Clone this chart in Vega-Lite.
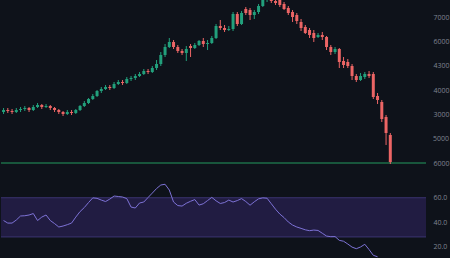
{
  "$schema": "https://vega.github.io/schema/vega-lite/v6.json",
  "background": "#0e121a",
  "padding": 0,
  "spacing": 4,
  "config": {
    "view": {"stroke": null},
    "axis": {"domain": false, "ticks": false, "grid": false, "labelColor": "#7f8491", "labelFont": "Open Sans", "labelFontSize": 7, "labelPadding": 7, "title": null, "labelFlush": false, "labelOverlap": false, "labelSeparation": 0, "labelBound": false}
  },
  "datasets": {
    "candles": [
      {"i":0,"open":3096,"close":3178,"high":3260,"low":3014},
      {"i":1,"open":3178,"close":3137,"high":3260,"low":3055},
      {"i":2,"open":3137,"close":3096,"high":3219,"low":3014},
      {"i":3,"open":3096,"close":3178,"high":3260,"low":3055},
      {"i":4,"open":3178,"close":3219,"high":3301,"low":3096},
      {"i":5,"open":3219,"close":3260,"high":3342,"low":3137},
      {"i":6,"open":3260,"close":3178,"high":3301,"low":3096},
      {"i":7,"open":3178,"close":3301,"high":3384,"low":3137},
      {"i":8,"open":3301,"close":3384,"high":3466,"low":3260},
      {"i":9,"open":3384,"close":3301,"high":3425,"low":3219},
      {"i":10,"open":3301,"close":3342,"high":3425,"low":3260},
      {"i":11,"open":3342,"close":3260,"high":3384,"low":3178},
      {"i":12,"open":3260,"close":3178,"high":3301,"low":3096},
      {"i":13,"open":3178,"close":3096,"high":3219,"low":3014},
      {"i":14,"open":3096,"close":3014,"high":3137,"low":2931},
      {"i":15,"open":3014,"close":3096,"high":3178,"low":2973},
      {"i":16,"open":3096,"close":3055,"high":3178,"low":2973},
      {"i":17,"open":3055,"close":3178,"high":3219,"low":3014},
      {"i":18,"open":3178,"close":3342,"high":3384,"low":3137},
      {"i":19,"open":3342,"close":3466,"high":3548,"low":3301},
      {"i":20,"open":3466,"close":3630,"high":3671,"low":3425},
      {"i":21,"open":3630,"close":3753,"high":3836,"low":3589},
      {"i":22,"open":3753,"close":3959,"high":4000,"low":3712},
      {"i":23,"open":3959,"close":4041,"high":4123,"low":3877},
      {"i":24,"open":4041,"close":4123,"high":4206,"low":4000},
      {"i":25,"open":4123,"close":4082,"high":4206,"low":4000},
      {"i":26,"open":4082,"close":4247,"high":4329,"low":4041},
      {"i":27,"open":4247,"close":4329,"high":4411,"low":4206},
      {"i":28,"open":4329,"close":4288,"high":4411,"low":4206},
      {"i":29,"open":4288,"close":4452,"high":4534,"low":4247},
      {"i":30,"open":4452,"close":4493,"high":4575,"low":4370},
      {"i":31,"open":4493,"close":4575,"high":4658,"low":4411},
      {"i":32,"open":4575,"close":4658,"high":4740,"low":4534},
      {"i":33,"open":4658,"close":4781,"high":4863,"low":4617},
      {"i":34,"open":4781,"close":4740,"high":4863,"low":4658},
      {"i":35,"open":4740,"close":4904,"high":4986,"low":4699},
      {"i":36,"open":4904,"close":5069,"high":5233,"low":4822},
      {"i":37,"open":5069,"close":5439,"high":5562,"low":4986},
      {"i":38,"open":5439,"close":5767,"high":5891,"low":5356},
      {"i":39,"open":5767,"close":5973,"high":6137,"low":5726},
      {"i":40,"open":5973,"close":5767,"high":6055,"low":5685},
      {"i":41,"open":5767,"close":5603,"high":5850,"low":5521},
      {"i":42,"open":5603,"close":5521,"high":5685,"low":5439},
      {"i":43,"open":5521,"close":5685,"high":5808,"low":5192},
      {"i":44,"open":5808,"close":5726,"high":5891,"low":5356},
      {"i":45,"open":5726,"close":5850,"high":5932,"low":5685},
      {"i":46,"open":5850,"close":6014,"high":6055,"low":5808},
      {"i":47,"open":6014,"close":5891,"high":6137,"low":5767},
      {"i":48,"open":5891,"close":5932,"high":6055,"low":5644},
      {"i":49,"open":5932,"close":6137,"high":6219,"low":5891},
      {"i":50,"open":6137,"close":6630,"high":6713,"low":6096},
      {"i":51,"open":6630,"close":6548,"high":6877,"low":6466},
      {"i":52,"open":6548,"close":6466,"high":6672,"low":6384},
      {"i":53,"open":6466,"close":6507,"high":6630,"low":6425},
      {"i":54,"open":6507,"close":7124,"high":7206,"low":6425},
      {"i":55,"open":7124,"close":6713,"high":7206,"low":6630},
      {"i":56,"open":6713,"close":7165,"high":7247,"low":6672},
      {"i":57,"open":7329,"close":7165,"high":7411,"low":7083},
      {"i":58,"open":7288,"close":7083,"high":7370,"low":6877},
      {"i":59,"open":7083,"close":7206,"high":7288,"low":6918},
      {"i":60,"open":7206,"close":7452,"high":7535,"low":7124},
      {"i":61,"open":7452,"close":7699,"high":7781,"low":7411},
      {"i":62,"open":7699,"close":7822,"high":7905,"low":7617},
      {"i":63,"open":7781,"close":7658,"high":7863,"low":7576},
      {"i":64,"open":7658,"close":7576,"high":7740,"low":7494},
      {"i":65,"open":7699,"close":7494,"high":7740,"low":7411},
      {"i":66,"open":7535,"close":7329,"high":7617,"low":7288},
      {"i":67,"open":7370,"close":7165,"high":7452,"low":7083},
      {"i":68,"open":7206,"close":7000,"high":7288,"low":6795},
      {"i":69,"open":7083,"close":6836,"high":7165,"low":6713},
      {"i":70,"open":6795,"close":6548,"high":6918,"low":6425},
      {"i":71,"open":6589,"close":6343,"high":6672,"low":6302},
      {"i":72,"open":6466,"close":6261,"high":6548,"low":6137},
      {"i":73,"open":6343,"close":6137,"high":6466,"low":5973},
      {"i":74,"open":6178,"close":6261,"high":6343,"low":6137},
      {"i":75,"open":6261,"close":6178,"high":6384,"low":6055},
      {"i":76,"open":6178,"close":5767,"high":6219,"low":5644},
      {"i":77,"open":5767,"close":5562,"high":5850,"low":5439},
      {"i":78,"open":5562,"close":5685,"high":5767,"low":5480},
      {"i":79,"open":5685,"close":5151,"high":5726,"low":4904},
      {"i":80,"open":5192,"close":5028,"high":5356,"low":4904},
      {"i":81,"open":5151,"close":4986,"high":5274,"low":4904},
      {"i":82,"open":4986,"close":4575,"high":5069,"low":4411},
      {"i":83,"open":4575,"close":4411,"high":4658,"low":4329},
      {"i":84,"open":4411,"close":4575,"high":4699,"low":4370},
      {"i":85,"open":4534,"close":4658,"high":4740,"low":4452},
      {"i":86,"open":4658,"close":4575,"high":4781,"low":4493},
      {"i":87,"open":4658,"close":3712,"high":4740,"low":3630},
      {"i":88,"open":3753,"close":3589,"high":3877,"low":3425},
      {"i":89,"open":3507,"close":2808,"high":3589,"low":2685},
      {"i":90,"open":2890,"close":2233,"high":2973,"low":1740},
      {"i":91,"open":2151,"close":1041,"high":2233,"low":959}
    ],
    "rsi": [
      {"i":0,"rsi":41.4},{"i":1,"rsi":39.3},{"i":2,"rsi":39.3},{"i":3,"rsi":41.8},{"i":4,"rsi":45.1},
      {"i":5,"rsi":45.3},{"i":6,"rsi":45.9},{"i":7,"rsi":47.1},{"i":8,"rsi":41.4},{"i":9,"rsi":44.2},
      {"i":10,"rsi":45.9},{"i":11,"rsi":41.4},{"i":12,"rsi":38.9},{"i":13,"rsi":36.1},{"i":14,"rsi":36.9},
      {"i":15,"rsi":38.0},{"i":16,"rsi":39.3},{"i":17,"rsi":44.2},{"i":18,"rsi":48.7},{"i":19,"rsi":52.0},
      {"i":20,"rsi":56.1},{"i":21,"rsi":59.9},{"i":22,"rsi":59.5},{"i":23,"rsi":58.1},{"i":24,"rsi":56.9},
      {"i":25,"rsi":58.9},{"i":26,"rsi":61.4},{"i":27,"rsi":61.0},{"i":28,"rsi":60.6},{"i":29,"rsi":59.3},
      {"i":30,"rsi":52.4},{"i":31,"rsi":51.6},{"i":32,"rsi":55.7},{"i":33,"rsi":56.5},{"i":34,"rsi":60.2},
      {"i":35,"rsi":63.8},{"i":36,"rsi":67.5},{"i":37,"rsi":70.4},{"i":38,"rsi":71.0},{"i":39,"rsi":66.3},
      {"i":40,"rsi":56.5},{"i":41,"rsi":53.6},{"i":42,"rsi":53.2},{"i":43,"rsi":55.5},{"i":44,"rsi":57.1},
      {"i":45,"rsi":58.5},{"i":46,"rsi":54.0},{"i":47,"rsi":55.1},{"i":48,"rsi":57.7},{"i":49,"rsi":60.3},
      {"i":50,"rsi":57.5},{"i":51,"rsi":55.3},{"i":52,"rsi":56.1},{"i":53,"rsi":58.1},{"i":54,"rsi":56.5},
      {"i":55,"rsi":57.7},{"i":56,"rsi":59.3},{"i":57,"rsi":56.9},{"i":58,"rsi":53.9},{"i":59,"rsi":56.7},
      {"i":60,"rsi":59.1},{"i":61,"rsi":59.9},{"i":62,"rsi":59.6},{"i":63,"rsi":55.1},{"i":64,"rsi":50.6},
      {"i":65,"rsi":46.7},{"i":66,"rsi":43.8},{"i":67,"rsi":40.2},{"i":68,"rsi":37.7},{"i":69,"rsi":36.1},
      {"i":70,"rsi":35.0},{"i":71,"rsi":33.8},{"i":72,"rsi":33.1},{"i":73,"rsi":33.6},{"i":74,"rsi":33.3},
      {"i":75,"rsi":31.0},{"i":76,"rsi":28.7},{"i":77,"rsi":28.2},{"i":78,"rsi":28.3},{"i":79,"rsi":25.2},
      {"i":80,"rsi":24.5},{"i":81,"rsi":22.2},{"i":82,"rsi":19.7},{"i":83,"rsi":18.4},{"i":84,"rsi":19.8},
      {"i":85,"rsi":22.0},{"i":86,"rsi":17.7},{"i":87,"rsi":13.0},{"i":88,"rsi":11.8}
    ]
  },
  "vconcat": [
    {
      "width": 425,
      "height": 175,
      "layer": [
        {
          "data": {"values": [{"level": 1000}]},
          "mark": {"type": "rule", "color": "#229a5e", "strokeWidth": 1},
          "encoding": {
            "y": {"field": "level", "type": "quantitative", "scale": {"domain": [507, 7699], "nice": false, "zero": false},
              "axis": {"orient": "right", "values": [1000, 3000, 4000, 5000, 6000, 7000], "labelOverlap": false, "labelSeparation": 0, "labelBound": false, "labelFlush": false,
                "labelExpr": "datum.value < 1500 ? '6000' : datum.value < 2500 ? '5000' : datum.value < 3500 ? '3000' : datum.value < 4500 ? '4000' : datum.value < 5500 ? '4300' : datum.value < 6500 ? '6000' : '7000'"}}
          }
        },
        {
          "data": {"name": "candles"},
          "mark": {"type": "rule", "strokeWidth": 1, "clip": true},
          "encoding": {
            "x": {"field": "i", "type": "quantitative", "scale": {"domain": [-0.6, 99.4], "nice": false, "zero": false}, "axis": null},
            "y": {"field": "low", "type": "quantitative",
              "axis": {"orient": "right", "values": [1000, 3000, 4000, 5000, 6000, 7000], "labelOverlap": false, "labelSeparation": 0, "labelBound": false, "labelFlush": false,
                "labelExpr": "datum.value < 1500 ? '6000' : datum.value < 2500 ? '5000' : datum.value < 3500 ? '3000' : datum.value < 4500 ? '4000' : datum.value < 5500 ? '4300' : datum.value < 6500 ? '6000' : '7000'"}},
            "y2": {"field": "high"},
            "color": {"condition": {"test": "datum.close >= datum.open", "value": "#22a07c"}, "value": "#ec6565"}
          }
        },
        {
          "data": {"name": "candles"},
          "mark": {"type": "rule", "strokeWidth": 3, "clip": true},
          "encoding": {
            "x": {"field": "i", "type": "quantitative"},
            "y": {"field": "open", "type": "quantitative",
              "axis": {"orient": "right", "values": [1000, 3000, 4000, 5000, 6000, 7000], "labelOverlap": false, "labelSeparation": 0, "labelBound": false, "labelFlush": false,
                "labelExpr": "datum.value < 1500 ? '6000' : datum.value < 2500 ? '5000' : datum.value < 3500 ? '3000' : datum.value < 4500 ? '4000' : datum.value < 5500 ? '4300' : datum.value < 6500 ? '6000' : '7000'"}},
            "y2": {"field": "close"},
            "color": {"condition": {"test": "datum.close >= datum.open", "value": "#22a07c"}, "value": "#ec6565"}
          }
        },
        {
          "data": {"values": [{"level": 2000, "label": "5000"}]},
          "mark": {"type": "text", "align": "left", "baseline": "middle", "font": "Open Sans", "fontSize": 7, "color": "#7f8491"},
          "encoding": {
            "x": {"datum": 101.05, "type": "quantitative"},
            "y": {"field": "level", "type": "quantitative",
              "axis": {"orient": "right", "values": [1000, 3000, 4000, 5000, 6000, 7000], "labelOverlap": false, "labelSeparation": 0, "labelBound": false, "labelFlush": false,
                "labelExpr": "datum.value < 1500 ? '6000' : datum.value < 2500 ? '5000' : datum.value < 3500 ? '3000' : datum.value < 4500 ? '4000' : datum.value < 5500 ? '4300' : datum.value < 6500 ? '6000' : '7000'"}},
            "text": {"field": "label"}
          }
        }
      ]
    },
    {
      "width": 425,
      "height": 79,
      "layer": [
        {
          "data": {"values": [{"lo": 28, "hi": 60}]},
          "mark": {"type": "rect", "color": "#211c42"},
          "encoding": {
            "y": {"field": "hi", "type": "quantitative", "scale": {"domain": [10.8, 75.3], "nice": false, "zero": false},
              "axis": {"orient": "right", "values": [20, 40, 60], "format": ".1f", "labelOverlap": false, "labelSeparation": 0}},
            "y2": {"field": "lo"}
          }
        },
        {
          "data": {"values": [{"level": 60}, {"level": 28}]},
          "mark": {"type": "rule", "color": "#3a3470", "strokeWidth": 1},
          "encoding": {"y": {"field": "level", "type": "quantitative",
            "axis": {"orient": "right", "values": [20, 40, 60], "format": ".1f", "labelOverlap": false, "labelSeparation": 0}}}
        },
        {
          "data": {"name": "rsi"},
          "mark": {"type": "line", "color": "#7d72d6", "strokeWidth": 1, "clip": true},
          "encoding": {
            "x": {"field": "i", "type": "quantitative", "scale": {"domain": [-0.6, 99.4], "nice": false, "zero": false}, "axis": null},
            "y": {"field": "rsi", "type": "quantitative",
              "axis": {"orient": "right", "values": [20, 40, 60], "format": ".1f", "labelOverlap": false, "labelSeparation": 0}}
          }
        }
      ]
    }
  ]
}
